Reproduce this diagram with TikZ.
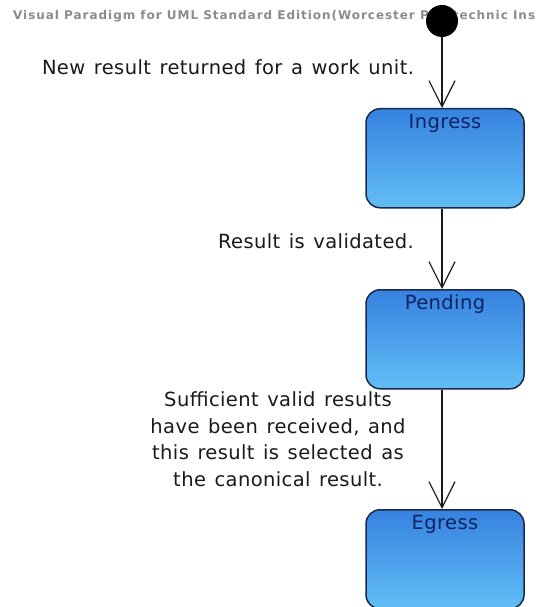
\documentclass[tikz,border=0pt]{standalone}
\usepackage{fontspec}
\usetikzlibrary{arrows.meta}
\newfontfamily\lblfont{DejaVu Sans}[LetterSpace=2.0, WordSpace=1.3]
\newfontfamily\hdrfont{DejaVu Sans}[LetterSpace=8.0]
\definecolor{statetop}{RGB}{54,130,224}
\definecolor{statebot}{RGB}{98,190,246}
\definecolor{stateline}{RGB}{24,42,72}
\definecolor{statetext}{RGB}{14,36,96}
\definecolor{hdrgray}{RGB}{140,140,140}
\definecolor{ink}{RGB}{26,26,26}
\tikzset{
  statebox/.style={rectangle, rounded corners=14pt, draw=stateline, line width=1.5pt,
    top color=statetop, bottom color=statebot, minimum width=158pt,
    inner ysep=7pt, text height=13pt, text depth=72pt, anchor=north,
    text=statetext, font=\lblfont\fontsize{19.5pt}{26.5pt}\selectfont},
  initial/.style={circle, fill=black, minimum size=32pt, inner sep=0pt},
  flow/.style={draw=ink, line width=1.2pt,
    -{Straight Barb[length=26pt, width=26pt, line width=1.2pt]}},
  guard/.style={text=ink, font=\lblfont\fontsize{19.5pt}{26.5pt}\selectfont, inner sep=0pt},
  header/.style={text=hdrgray, font=\hdrfont\bfseries\fontsize{12pt}{14pt}\selectfont,
    inner sep=0pt, anchor=base west}
}
\begin{document}
\begin{tikzpicture}[x=1pt, y=-1pt]
  \useasboundingbox (0,0) rectangle (535,607);
  \fill[white] (0,0) rectangle (535,607);

  % tool watermark along the top edge
  \node[header] (hdr) at (13,20) {Visual Paradigm for UML Standard Edition(Worcester Polytechnic Ins};

  % states
  \node[initial] (start) at (442,21) {};
  \node[statebox] (ingress) at (445,108) {Ingress};
  \node[statebox] (pending) at (445,289) {Pending};
  \node[statebox] (egress) at (445,509) {Egress};

  % transitions
  \draw[flow] (start.south) -- (start.south |- ingress.north);
  \draw[flow] (start.south |- ingress.south) -- (start.south |- pending.north);
  \draw[flow] (start.south |- pending.south) -- (start.south |- egress.north);

  % transition labels (the last one is placed by the baseline of its last line)
  \node[guard, anchor=base] (l1) at (228,75) {New result returned for a work unit.};
  \node[guard, anchor=base] (l2) at (316,248) {Result is validated.};
  \node[guard, align=center, anchor=base] (l3) at (278,486) {Sufficient valid results\\have been received, and\\this result is selected as\\the canonical result.};
\end{tikzpicture}
\end{document}
